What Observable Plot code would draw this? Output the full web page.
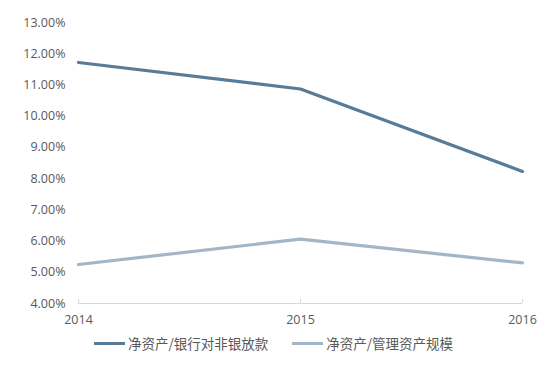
<!DOCTYPE html>
<html>
<head>
<meta charset="utf-8">
<script src="https://cdn.jsdelivr.net/npm/d3@7"></script>
<script src="https://cdn.jsdelivr.net/npm/@observablehq/plot@0.6"></script>
<style>
  html, body { margin: 0; padding: 0; background: #fff; }
  #chart { width: 547px; }
  .legend { display: flex; justify-content: center; align-items: center; gap: 24px;
    font-family: "Noto Sans CJK SC", "Noto Sans", sans-serif; font-size: 13.5px; color: #595959; margin-top: 1px; margin-left: 0px; }
  .item { display: flex; align-items: center; }
  .sw { width: 31px; height: 3px; margin-right: 3px; }
</style>
</head>
<body>
<div id="chart"></div>
<script>
const years = [2014, 2015, 2016];
const seriesNames = ["净资产/银行对非银放款", "净资产/管理资产规模"];
const seriesA = [11.72, 10.87, 8.23];
const seriesB = [5.25, 6.06, 5.30];
const yTicks = [4, 5, 6, 7, 8, 9, 10, 11, 12, 13];
const colors = ["#587b98", "#a2b6c8"];

const data = [];
years.forEach((y, i) => {
  data.push({year: y, value: seriesA[i], series: seriesNames[0]});
  data.push({year: y, value: seriesB[i], series: seriesNames[1]});
});

const fmt = d3.format(".2f");
const chart = Plot.plot({
  width: 547,
  height: 332,
  marginLeft: 78,
  marginRight: 25,
  marginTop: 22,
  marginBottom: 29,
  style: {fontFamily: "'Open Sans', 'Noto Sans', sans-serif", fontSize: "12.5px", color: "#595959", background: "#fff"},
  x: {domain: [years[0], years[years.length - 1]], label: null},
  y: {domain: [yTicks[0], yTicks[yTicks.length - 1]], label: null},
  color: {domain: seriesNames, range: colors},
  marks: [
    Plot.ruleY([yTicks[0]], {stroke: "#d9d9d9", strokeWidth: 1}),
    Plot.ruleX(years, {x: d => d, y1: yTicks[0], y2: yTicks[0], insetTop: -4, stroke: "#d9d9d9"}),
    Plot.axisY({ticks: yTicks, tickSize: 0, tickPadding: 13, label: null, tickFormat: d => fmt(d) + "%", fill: "#595959"}),
    Plot.axisX({ticks: years, tickSize: 0, tickPadding: 12, label: null, tickFormat: d => String(d), fill: "#595959"}),
    Plot.line(data, {x: "year", y: "value", stroke: "series", z: "series", strokeWidth: 3.2, strokeLinejoin: "round"})
  ]
});
document.getElementById("chart").appendChild(chart);

const legend = document.createElement("div");
legend.className = "legend";
seriesNames.forEach((n, i) => {
  const it = document.createElement("div");
  it.className = "item";
  const sw = document.createElement("span");
  sw.className = "sw";
  sw.style.background = colors[i];
  const t = document.createElement("span");
  t.textContent = n;
  it.appendChild(sw); it.appendChild(t);
  legend.appendChild(it);
});
document.getElementById("chart").appendChild(legend);
</script>
</body>
</html>
